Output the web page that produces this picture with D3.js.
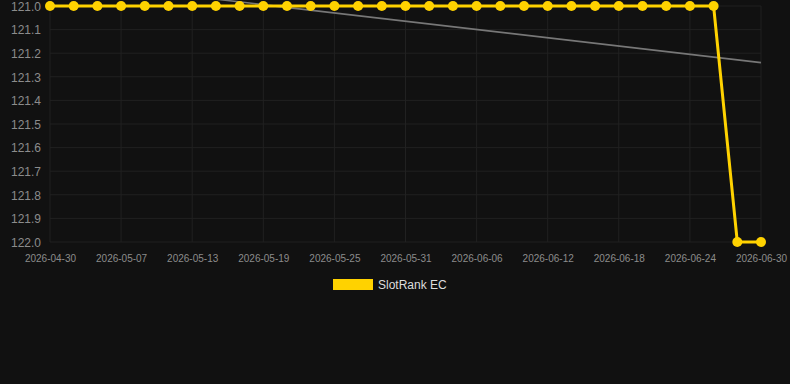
<!DOCTYPE html>
<html>
<head>
<meta charset="utf-8">
<script src="https://cdn.jsdelivr.net/npm/d3@7"></script>
<style>
  html, body { margin: 0; padding: 0; background: #111111; }
  svg { display: block; font-family: "Liberation Sans", Arial, sans-serif; }
</style>
</head>
<body>
<svg id="chart" width="790" height="384"></svg>
<script>
// categories (one every ~2 days, label shown on every third)
var dates = [
  '2026-04-30', '2026-05-02', '2026-05-05', '2026-05-07', '2026-05-09', '2026-05-11',
  '2026-05-13', '2026-05-15', '2026-05-17', '2026-05-19', '2026-05-21', '2026-05-23',
  '2026-05-25', '2026-05-27', '2026-05-29', '2026-05-31', '2026-06-02', '2026-06-04',
  '2026-06-06', '2026-06-08', '2026-06-10', '2026-06-12', '2026-06-14', '2026-06-16',
  '2026-06-18', '2026-06-20', '2026-06-22', '2026-06-24', '2026-06-26', '2026-06-28',
  '2026-06-30'
]
var rank = [
  121, 121, 121, 121, 121, 121, 121, 121, 121, 121, 121, 121, 121, 121, 121, 121,
  121, 121, 121, 121, 121, 121, 121, 121, 121, 121, 121, 121, 121, 122, 122
]
var yTicks = [121.0, 121.1, 121.2, 121.3, 121.4, 121.5, 121.6, 121.7, 121.8, 121.9, 122.0]
var seriesName = 'SlotRank EC'

var yellow = '#ffd200'
var svg = d3.select('#chart')
var m = { left: 50, right: 761, top: 6, bottom: 242 }

var x = d3.scalePoint().domain(dates).range([m.left, m.right])
var y = d3.scaleLinear().domain([121, 122]).range([m.top, m.bottom])

// grid
var grid = svg.append('g').attr('class', 'grid')
grid.selectAll('line.h')
  .data(yTicks)
  .enter().append('line')
  .attr('class', 'h')
  .attr('x1', m.left).attr('x2', m.right)
  .attr('y1', function (d) { return y(d) }).attr('y2', function (d) { return y(d) })
  .style('stroke', '#212121')
  .style('stroke-width', 1)

var labelled = dates.filter(function (d, i) { return i % 3 === 0 })
grid.selectAll('line.v')
  .data(labelled)
  .enter().append('line')
  .attr('class', 'v')
  .attr('x1', function (d) { return x(d) }).attr('x2', function (d) { return x(d) })
  .attr('y1', m.top).attr('y2', m.bottom)
  .style('stroke', '#212121')
  .style('stroke-width', 1)

// y axis
var yAxis = svg.append('g')
  .attr('transform', 'translate(' + (m.left - 9) + ',0.5)')
  .call(d3.axisLeft(y).tickValues(yTicks).tickFormat(d3.format('.1f')).tickSize(0).tickPadding(0))
yAxis.select('.domain').remove()
yAxis.selectAll('text')
  .style('font-size', '12px')
  .style('fill', '#8c8c8c')

// x axis
var xAxis = svg.append('g')
  .attr('transform', 'translate(0,' + (m.bottom + 13) + ')')
  .call(d3.axisBottom(x).tickValues(labelled).tickSize(0).tickPadding(0))
xAxis.select('.domain').remove()
xAxis.selectAll('text')
  .style('font-size', '10px')
  .style('fill', '#8c8c8c')

// trend (least squares over the series)
var n = rank.length
var mx = d3.mean(rank, function (d, i) { return i })
var my = d3.mean(rank)
var slope = d3.sum(rank, function (d, i) { return (i - mx) * (d - my) }) /
  d3.sum(rank, function (d, i) { return (i - mx) * (i - mx) })
var trend = [0, n - 1].map(function (i) { return { i: i, v: my + slope * (i - mx) } })

svg.append('path')
  .datum(trend)
  .attr('d', d3.line()
    .x(function (d) { return x(dates[d.i]) })
    .y(function (d) { return y(d.v) }))
  .style('fill', 'none')
  .style('stroke', '#777')
  .style('stroke-width', 1.6)

// series
var line = d3.line()
  .x(function (d, i) { return x(dates[i]) })
  .y(function (d) { return y(d) })

svg.append('path')
  .datum(rank)
  .attr('d', line)
  .style('fill', 'none')
  .style('stroke', yellow)
  .style('stroke-width', 3)

svg.append('g').selectAll('circle')
  .data(rank)
  .enter().append('circle')
  .attr('cx', function (d, i) { return x(dates[i]) })
  .attr('cy', function (d) { return y(d) })
  .attr('r', 5)
  .attr('fill', yellow)

// legend
var legend = svg.append('g').attr('transform', 'translate(333,279)')
legend.append('rect')
  .attr('width', 40).attr('height', 11)
  .attr('fill', yellow)
legend.append('text')
  .attr('x', 45).attr('y', 10)
  .style('font-size', '12px')
  .style('fill', '#dddddd')
  .text(seriesName)
</script>
</body>
</html>
